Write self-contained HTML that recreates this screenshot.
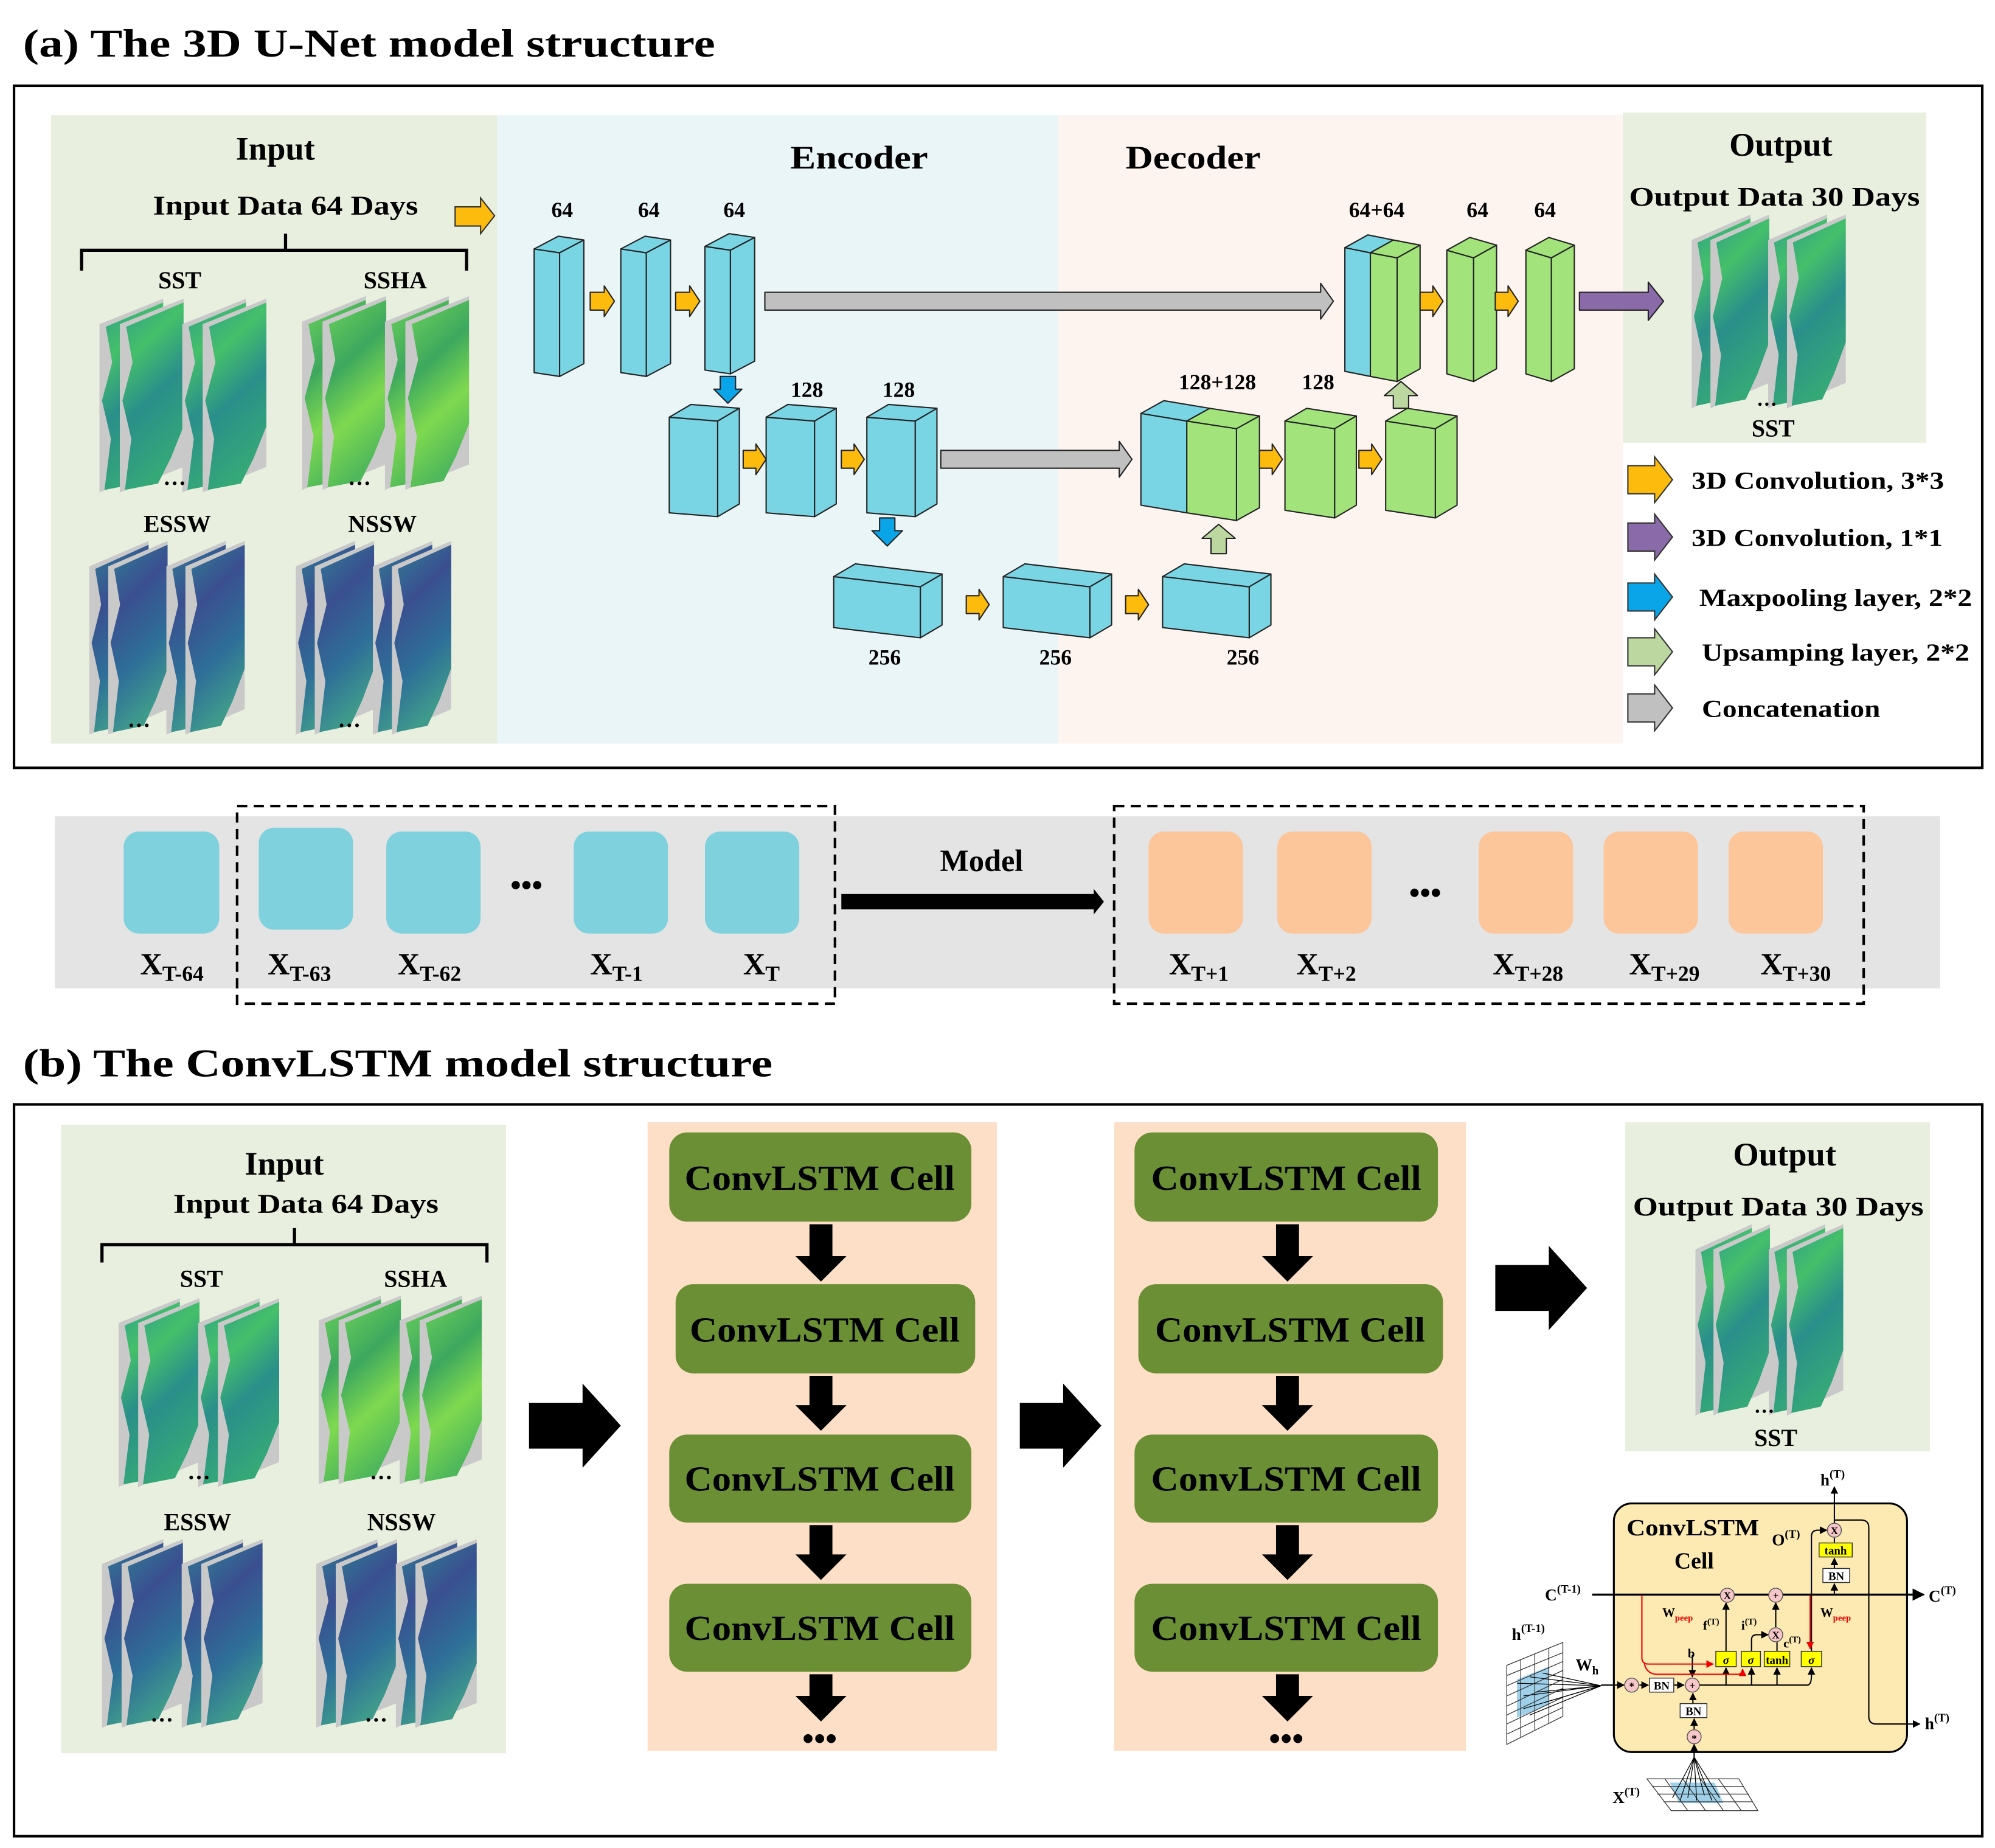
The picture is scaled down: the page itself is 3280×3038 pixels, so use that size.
<!DOCTYPE html>
<html><head><meta charset="utf-8"><style>
html,body{margin:0;padding:0;background:#fff}
svg{display:block}
text{font-family:"Liberation Serif",serif;font-weight:bold;fill:#000}
</style></head><body>
<svg width="3280" height="3038" viewBox="0 0 1565 1449" xmlns="http://www.w3.org/2000/svg">
<defs>
<linearGradient id="gSST" x1="0" y1="0" x2="0.3" y2="1"><stop offset="0" stop-color="#2f9e8a"/><stop offset="0.3" stop-color="#45c06a"/><stop offset="0.6" stop-color="#2a8f8a"/><stop offset="1" stop-color="#35a878"/></linearGradient>
<linearGradient id="gSSHA" x1="0" y1="0" x2="0.3" y2="1"><stop offset="0" stop-color="#6ed35a"/><stop offset="0.4" stop-color="#3da85e"/><stop offset="0.7" stop-color="#7fd94f"/><stop offset="1" stop-color="#4fb85a"/></linearGradient>
<linearGradient id="gSW" x1="0" y1="0" x2="0.3" y2="1"><stop offset="0" stop-color="#2f7f95"/><stop offset="0.35" stop-color="#3a4f90"/><stop offset="0.7" stop-color="#2e6f98"/><stop offset="1" stop-color="#3f9a8c"/></linearGradient>
<symbol id="sSST" viewBox="0 0 131 152" preserveAspectRatio="none">
<g><polygon points="0,20 50,0 50,132 0,152" fill="#c9c9c9"/><polygon points="5,22 50,3 50,100 40,125 30,145 4,150 9,110 2,80 10,50" fill="url(#gSST)"/></g>
<g><polygon points="16,20 66,0 66,132 16,152" fill="#c9c9c9"/><polygon points="21,22 66,3 66,100 56,125 46,145 20,150 25,110 18,80 26,50" fill="url(#gSST)"/></g>
<g><polygon points="65,20 115,0 115,132 65,152" fill="#c9c9c9"/><polygon points="70,22 115,3 115,100 105,125 95,145 69,150 74,110 67,80 75,50" fill="url(#gSST)"/></g>
<g><polygon points="81,20 131,0 131,132 81,152" fill="#c9c9c9"/><polygon points="86,22 131,3 131,100 121,125 111,145 85,150 90,110 83,80 91,50" fill="url(#gSST)"/></g>
</symbol>
<symbol id="sSSHA" viewBox="0 0 131 152" preserveAspectRatio="none">
<g><polygon points="0,20 50,0 50,132 0,152" fill="#c9c9c9"/><polygon points="5,22 50,3 50,100 40,125 30,145 4,150 9,110 2,80 10,50" fill="url(#gSSHA)"/></g>
<g><polygon points="16,20 66,0 66,132 16,152" fill="#c9c9c9"/><polygon points="21,22 66,3 66,100 56,125 46,145 20,150 25,110 18,80 26,50" fill="url(#gSSHA)"/></g>
<g><polygon points="65,20 115,0 115,132 65,152" fill="#c9c9c9"/><polygon points="70,22 115,3 115,100 105,125 95,145 69,150 74,110 67,80 75,50" fill="url(#gSSHA)"/></g>
<g><polygon points="81,20 131,0 131,132 81,152" fill="#c9c9c9"/><polygon points="86,22 131,3 131,100 121,125 111,145 85,150 90,110 83,80 91,50" fill="url(#gSSHA)"/></g>
</symbol>
<symbol id="sSW" viewBox="0 0 131 152" preserveAspectRatio="none">
<g><polygon points="0,20 50,0 50,132 0,152" fill="#c9c9c9"/><polygon points="5,22 50,3 50,100 40,125 30,145 4,150 9,110 2,80 10,50" fill="url(#gSW)"/></g>
<g><polygon points="16,20 66,0 66,132 16,152" fill="#c9c9c9"/><polygon points="21,22 66,3 66,100 56,125 46,145 20,150 25,110 18,80 26,50" fill="url(#gSW)"/></g>
<g><polygon points="65,20 115,0 115,132 65,152" fill="#c9c9c9"/><polygon points="70,22 115,3 115,100 105,125 95,145 69,150 74,110 67,80 75,50" fill="url(#gSW)"/></g>
<g><polygon points="81,20 131,0 131,132 81,152" fill="#c9c9c9"/><polygon points="86,22 131,3 131,100 121,125 111,145 85,150 90,110 83,80 91,50" fill="url(#gSW)"/></g>
</symbol>
<marker id="ah" viewBox="0 0 10 10" refX="9" refY="5" markerWidth="6" markerHeight="6" orient="auto"><path d="M0,0 L10,5 L0,10 z" fill="#000"/></marker>
<marker id="ahr" viewBox="0 0 10 10" refX="9" refY="5" markerWidth="6" markerHeight="6" orient="auto"><path d="M0,0 L10,5 L0,10 z" fill="#e00"/></marker>
</defs>

<text x="18" y="44" font-size="31" textLength="543" lengthAdjust="spacingAndGlyphs">(a) The 3D U-Net model structure</text>
<rect x="11" y="67" width="1544" height="535" fill="#fff" stroke="#000" stroke-width="2"/>
<rect x="40" y="90" width="350" height="493" fill="#e8efdf"/>
<rect x="390" y="90" width="440" height="493" fill="#eaf5f8"/>
<rect x="830" y="90" width="443" height="493" fill="#fdf4ef"/>
<rect x="1273" y="88" width="238" height="259" fill="#e8efdf"/>

<text x="216" y="125" font-size="26" text-anchor="middle">Input</text>
<text x="224" y="168" font-size="21" text-anchor="middle" textLength="208" lengthAdjust="spacingAndGlyphs">Input Data 64 Days</text>
<path d="M64,212 V196 H366 V212 M224,196 V183" fill="none" stroke="#000" stroke-width="2.5"/>
<text x="141" y="226" font-size="19" text-anchor="middle">SST</text>
<text x="310" y="226" font-size="19" text-anchor="middle">SSHA</text>
<text x="139" y="417" font-size="19" text-anchor="middle">ESSW</text>
<text x="300" y="417" font-size="19" text-anchor="middle">NSSW</text>
<use href="#sSST" x="78" y="234" width="131" height="152"/>
<use href="#sSSHA" x="237" y="232" width="131" height="152"/>
<use href="#sSW" x="70" y="424" width="122" height="152"/>
<use href="#sSW" x="232" y="424" width="122" height="152"/>
<text x="128" y="380" font-size="18">…</text>
<text x="273" y="380" font-size="18">…</text>
<text x="100" y="570" font-size="18">…</text>
<text x="265" y="570" font-size="18">…</text>

<text x="674" y="132" font-size="26" text-anchor="middle" textLength="108" lengthAdjust="spacingAndGlyphs">Encoder</text>
<text x="936" y="132" font-size="26" text-anchor="middle" textLength="106" lengthAdjust="spacingAndGlyphs">Decoder</text>

<polygon points="357,162 377,162 377,155 388,169 377,183 377,177 357,177" fill="#fdbb0d" stroke="#333" stroke-width="1"/>

<g font-size="17" text-anchor="middle">
<text x="441" y="170">64</text><text x="509" y="170">64</text><text x="576" y="170">64</text>
<text x="633" y="311">128</text><text x="705" y="311">128</text>
<text x="694" y="521">256</text><text x="828" y="521">256</text><text x="975" y="521">256</text>
<text x="1080" y="170">64+64</text><text x="1159" y="170">64</text><text x="1212" y="170">64</text>
<text x="955" y="305">128+128</text><text x="1034" y="305">128</text>
</g>

<g stroke="#222" stroke-width="1" stroke-linejoin="round">
<g fill="#79d5e4">
<polygon points="419,195 439,198 439,295 419,292"/><polygon points="419,195 438,185 458,188 439,198"/><polygon points="439,198 458,188 458,285 439,295"/>
<polygon points="487,195 507,198 507,295 487,292"/><polygon points="487,195 506,185 526,188 507,198"/><polygon points="507,198 526,188 526,285 507,295"/>
<polygon points="553,193 573,196 573,293 553,290"/><polygon points="553,193 572,183 592,186 573,196"/><polygon points="573,196 592,186 592,283 573,293"/>
<polygon points="525,327 563,330 563,405 525,402"/><polygon points="525,327 542,317 580,320 563,330"/><polygon points="563,330 580,320 580,395 563,405"/>
<polygon points="601,327 639,330 639,405 601,402"/><polygon points="601,327 618,317 656,320 639,330"/><polygon points="639,330 656,320 656,395 639,405"/>
<polygon points="680,327 718,330 718,405 680,402"/><polygon points="680,327 697,317 735,320 718,330"/><polygon points="718,330 735,320 735,395 718,405"/>
<polygon points="654,452 722,460 722,500 654,492"/><polygon points="654,452 671,442 739,450 722,460"/><polygon points="722,460 739,450 739,490 722,500"/>
<polygon points="787,452 855,460 855,500 787,492"/><polygon points="787,452 804,442 872,450 855,460"/><polygon points="855,460 872,450 872,490 855,500"/>
<polygon points="912,452 980,460 980,500 912,492"/><polygon points="912,452 929,442 997,450 980,460"/><polygon points="980,460 997,450 997,490 980,500"/>
<polygon points="895,324 931,330 931,402 895,396"/><polygon points="895,324 913,314 949,320 931,330"/>
<polygon points="1055,194 1075,198 1075,295 1055,291"/><polygon points="1055,194 1073,184 1093,188 1075,198"/>
</g>
<g fill="#a2e37c">
<polygon points="931,330 970,336 970,408 931,402"/><polygon points="931,330 949,320 988,326 970,336"/><polygon points="970,336 988,326 988,398 970,408"/>
<polygon points="1008,330 1047,336 1047,406 1008,400"/><polygon points="1008,330 1025,320 1064,326 1047,336"/><polygon points="1047,336 1064,326 1064,396 1047,406"/>
<polygon points="1087,330 1126,336 1126,406 1087,400"/><polygon points="1087,330 1104,320 1143,326 1126,336"/><polygon points="1126,336 1143,326 1143,396 1126,406"/>
<polygon points="1075,198 1096,202 1096,299 1075,295"/><polygon points="1075,198 1093,188 1114,192 1096,202"/><polygon points="1096,202 1114,192 1114,289 1096,299"/>
<polygon points="1135,196 1156,202 1156,299 1135,293"/><polygon points="1135,196 1153,186 1174,192 1156,202"/><polygon points="1156,202 1174,192 1174,289 1156,299"/>
<polygon points="1197,196 1217,202 1217,299 1197,293"/><polygon points="1197,196 1215,186 1235,192 1217,202"/><polygon points="1217,202 1235,192 1235,289 1217,299"/>
</g>
<g fill="#fdbb0d">
<polygon points="463,229 474,229 474,224 482,236 474,248 474,243 463,243"/>
<polygon points="530,229 541,229 541,224 549,236 541,248 541,243 530,243"/>
<polygon points="583,353 593,353 593,348 601,360 593,372 593,367 583,367"/>
<polygon points="660,353 670,353 670,348 678,360 670,372 670,367 660,367"/>
<polygon points="758,467 768,467 768,462 776,474 768,486 768,481 758,481"/>
<polygon points="883,467 893,467 893,462 901,474 893,486 893,481 883,481"/>
<polygon points="988,353 998,353 998,348 1006,360 998,372 998,367 988,367"/>
<polygon points="1066,353 1076,353 1076,348 1084,360 1076,372 1076,367 1066,367"/>
<polygon points="1114,229 1124,229 1124,224 1132,236 1124,248 1124,243 1114,243"/>
<polygon points="1173,229 1183,229 1183,224 1191,236 1183,248 1183,243 1173,243"/>
</g>
<g fill="#c0c0c0">
<polygon points="600,229 1036,229 1036,222 1046,236 1036,250 1036,243 600,243"/>
<polygon points="738,353 878,353 878,346 888,360 878,374 878,367 738,367"/>
</g>
<g fill="#0aa5e8">
<polygon points="565,295 577,295 577,305 582,305 571,316 560,305 565,305"/>
<polygon points="690,406 702,406 702,416 708,416 696,428 684,416 690,416"/>
</g>
<g fill="#bcd8a0">
<polygon points="950,434 962,434 962,422 969,422 956,411 943,422 950,422"/>
<polygon points="1093,320 1105,320 1105,310 1112,310 1099,299 1086,310 1093,310"/>
</g>
<polygon points="1239,229 1293,229 1293,221 1305,236 1293,251 1293,243 1239,243" fill="#8a6aa8"/>
</g>

<text x="1397" y="122" font-size="26" text-anchor="middle">Output</text>
<text x="1392" y="161" font-size="21" text-anchor="middle" textLength="228" lengthAdjust="spacingAndGlyphs">Output Data 30 Days</text>
<use href="#sSST" x="1327" y="168" width="121" height="152"/>
<text x="1378" y="318" font-size="16">…</text>
<text x="1391" y="342" font-size="19" text-anchor="middle">SST</text>

<g stroke="#333" stroke-width="1">
<polygon points="1277,365 1298,365 1298,358 1312,376 1298,394 1298,387 1277,387" fill="#fdbb0d"/>
<polygon points="1277,410 1298,410 1298,403 1312,421 1298,439 1298,432 1277,432" fill="#8a6aa8"/>
<polygon points="1277,457 1298,457 1298,450 1312,468 1298,486 1298,479 1277,479" fill="#0aa5e8"/>
<polygon points="1277,500 1298,500 1298,493 1312,511 1298,529 1298,522 1277,522" fill="#bcd8a0"/>
<polygon points="1277,544 1298,544 1298,537 1312,555 1298,573 1298,566 1277,566" fill="#c0c0c0"/>
</g>
<g font-size="19">
<text x="1327" y="383" textLength="198" lengthAdjust="spacingAndGlyphs">3D Convolution, 3*3</text>
<text x="1327" y="428" textLength="197" lengthAdjust="spacingAndGlyphs">3D Convolution, 1*1</text>
<text x="1333" y="475" textLength="214" lengthAdjust="spacingAndGlyphs">Maxpooling layer, 2*2</text>
<text x="1335" y="518" textLength="210" lengthAdjust="spacingAndGlyphs">Upsamping layer, 2*2</text>
<text x="1335" y="562" textLength="140" lengthAdjust="spacingAndGlyphs">Concatenation</text>
</g>

<rect x="43" y="640" width="1479" height="135" fill="#e4e4e4"/>
<g fill="#7fd1de">
<rect x="97" y="652" width="75" height="80" rx="12"/>
<rect x="203" y="649" width="74" height="80" rx="12"/>
<rect x="303" y="652" width="74" height="80" rx="12"/>
<rect x="450" y="652" width="74" height="80" rx="12"/>
<rect x="553" y="652" width="74" height="80" rx="12"/>
</g>
<g fill="#fdc59a">
<rect x="901" y="652" width="74" height="80" rx="12"/>
<rect x="1002" y="652" width="74" height="80" rx="12"/>
<rect x="1160" y="652" width="74" height="80" rx="12"/>
<rect x="1258" y="652" width="74" height="80" rx="12"/>
<rect x="1356" y="652" width="74" height="80" rx="12"/>
</g>
<rect x="186" y="632" width="469" height="155" fill="none" stroke="#000" stroke-width="2" stroke-dasharray="8,5"/>
<rect x="874" y="632" width="588" height="155" fill="none" stroke="#000" stroke-width="2" stroke-dasharray="8,5"/>
<text x="413" y="702" font-size="24" text-anchor="middle">•••</text>
<text x="1118" y="708" font-size="24" text-anchor="middle">•••</text>
<text x="770" y="683" font-size="24" text-anchor="middle">Model</text>
<polygon points="660,701 858,701 858,697 866,707 858,717 858,713 660,713" fill="#000"/>
<g font-size="24">
<text x="110" y="764">X<tspan font-size="17" dy="5">T-64</tspan></text>
<text x="210" y="764">X<tspan font-size="17" dy="5">T-63</tspan></text>
<text x="312" y="764">X<tspan font-size="17" dy="5">T-62</tspan></text>
<text x="463" y="764">X<tspan font-size="17" dy="5">T-1</tspan></text>
<text x="583" y="764">X<tspan font-size="17" dy="5">T</tspan></text>
<text x="917" y="764">X<tspan font-size="17" dy="5">T+1</tspan></text>
<text x="1017" y="764">X<tspan font-size="17" dy="5">T+2</tspan></text>
<text x="1171" y="764">X<tspan font-size="17" dy="5">T+28</tspan></text>
<text x="1278" y="764">X<tspan font-size="17" dy="5">T+29</tspan></text>
<text x="1381" y="764">X<tspan font-size="17" dy="5">T+30</tspan></text>
</g>

<text x="18" y="844" font-size="31" textLength="588" lengthAdjust="spacingAndGlyphs">(b) The ConvLSTM model structure</text>
<rect x="11" y="866" width="1544" height="574" fill="#fff" stroke="#000" stroke-width="2"/>
<rect x="48" y="882" width="349" height="493" fill="#e8efdf"/>
<text x="223" y="921" font-size="26" text-anchor="middle">Input</text>
<text x="240" y="951" font-size="21" text-anchor="middle" textLength="208" lengthAdjust="spacingAndGlyphs">Input Data 64 Days</text>
<path d="M80,990 V976 H382 V990 M231,976 V963" fill="none" stroke="#000" stroke-width="2.5"/>
<text x="158" y="1009" font-size="19" text-anchor="middle">SST</text>
<text x="326" y="1009" font-size="19" text-anchor="middle">SSHA</text>
<text x="155" y="1200" font-size="19" text-anchor="middle">ESSW</text>
<text x="315" y="1200" font-size="19" text-anchor="middle">NSSW</text>
<use href="#sSST" x="93" y="1018" width="126" height="148"/>
<use href="#sSSHA" x="250" y="1016" width="128" height="148"/>
<use href="#sSW" x="80" y="1207" width="126" height="148"/>
<use href="#sSW" x="248" y="1207" width="126" height="148"/>
<text x="147" y="1160" font-size="18">…</text>
<text x="290" y="1160" font-size="18">…</text>
<text x="118" y="1350" font-size="18">…</text>
<text x="286" y="1350" font-size="18">…</text>

<polygon points="415,1100 457,1100 457,1085 487,1118 457,1151 457,1136 415,1136" fill="#000"/>
<polygon points="800,1100 834,1100 834,1085 864,1118 834,1151 834,1136 800,1136" fill="#000"/>
<polygon points="1173,992 1215,992 1215,977 1245,1010 1215,1043 1215,1028 1173,1028" fill="#000"/>

<rect x="508" y="880" width="274" height="493" fill="#fddfc8"/>
<rect x="874" y="880" width="276" height="493" fill="#fddfc8"/>
<g fill="#6b8f35">
<rect x="525" y="888" width="237" height="70" rx="14"/>
<rect x="530" y="1007" width="235" height="70" rx="14"/>
<rect x="525" y="1125" width="237" height="69" rx="14"/>
<rect x="525" y="1242" width="237" height="69" rx="14"/>
<rect x="890" y="888" width="238" height="70" rx="14"/>
<rect x="893" y="1007" width="239" height="70" rx="14"/>
<rect x="890" y="1125" width="238" height="69" rx="14"/>
<rect x="890" y="1242" width="238" height="69" rx="14"/>
</g>
<g font-size="28" text-anchor="middle">
<text x="643" y="933" fill="#fff" textLength="212" lengthAdjust="spacingAndGlyphs">ConvLSTM Cell</text>
<text x="647" y="1052" fill="#fff" textLength="212" lengthAdjust="spacingAndGlyphs">ConvLSTM Cell</text>
<text x="643" y="1169" fill="#fff" textLength="212" lengthAdjust="spacingAndGlyphs">ConvLSTM Cell</text>
<text x="643" y="1286" fill="#fff" textLength="212" lengthAdjust="spacingAndGlyphs">ConvLSTM Cell</text>
<text x="1009" y="933" fill="#fff" textLength="212" lengthAdjust="spacingAndGlyphs">ConvLSTM Cell</text>
<text x="1012" y="1052" fill="#fff" textLength="212" lengthAdjust="spacingAndGlyphs">ConvLSTM Cell</text>
<text x="1009" y="1169" fill="#fff" textLength="212" lengthAdjust="spacingAndGlyphs">ConvLSTM Cell</text>
<text x="1009" y="1286" fill="#fff" textLength="212" lengthAdjust="spacingAndGlyphs">ConvLSTM Cell</text>
</g>
<g fill="#000">
<polygon points="635,960 653,960 653,985 664,985 644,1005 624,985 635,985"/>
<polygon points="635,1079 653,1079 653,1102 664,1102 644,1122 624,1102 635,1102"/>
<polygon points="635,1196 653,1196 653,1219 664,1219 644,1239 624,1219 635,1219"/>
<polygon points="635,1313 653,1313 653,1330 664,1330 644,1350 624,1330 635,1330"/>
<polygon points="1001,960 1019,960 1019,985 1030,985 1010,1005 990,985 1001,985"/>
<polygon points="1001,1079 1019,1079 1019,1102 1030,1102 1010,1122 990,1102 1001,1102"/>
<polygon points="1001,1196 1019,1196 1019,1219 1030,1219 1010,1239 990,1219 1001,1219"/>
<polygon points="1001,1313 1019,1313 1019,1330 1030,1330 1010,1350 990,1330 1001,1330"/>
</g>
<text x="643" y="1372" font-size="26" text-anchor="middle">•••</text>
<text x="1009" y="1372" font-size="26" text-anchor="middle">•••</text>

<rect x="1275" y="880" width="239" height="258" fill="#e8efdf"/>
<text x="1400" y="914" font-size="26" text-anchor="middle">Output</text>
<text x="1395" y="953" font-size="21" text-anchor="middle" textLength="228" lengthAdjust="spacingAndGlyphs">Output Data 30 Days</text>
<use href="#sSST" x="1330" y="960" width="116" height="150"/>
<text x="1376" y="1108" font-size="16">…</text>
<text x="1393" y="1134" font-size="19" text-anchor="middle">SST</text>

<rect x="1266" y="1179" width="230" height="195" rx="14" fill="#fdeab3" stroke="#000" stroke-width="1.5"/>
<text x="1276" y="1204" font-size="18" textLength="104" lengthAdjust="spacingAndGlyphs">ConvLSTM</text>
<text x="1329" y="1230" font-size="18" text-anchor="middle">Cell</text>
<g stroke="#000" stroke-width="1" fill="none">
<line x1="1249" y1="1250.5" x2="1509" y2="1250.5" stroke-width="1.6" marker-end="url(#ah)"/>
<line x1="1439" y1="1250" x2="1439" y2="1242" marker-end="url(#ah)"/>
<line x1="1439" y1="1230" x2="1439" y2="1222" marker-end="url(#ah)"/>
<line x1="1439" y1="1210" x2="1439" y2="1206" />
<line x1="1439" y1="1195" x2="1439" y2="1166" marker-end="url(#ah)"/>
<path d="M1439,1192 H1460 Q1466,1192 1466,1198 V1346 Q1466,1352 1472,1352 H1506" marker-end="url(#ah)"/>
<path d="M1421,1295 V1205 Q1421,1200 1426,1200 H1433" marker-end="url(#ah)"/>
<line x1="1327.6" y1="1321.5" x2="1418" y2="1321.5"/>
<path d="M1418,1321.5 Q1421,1321 1421,1314 V1308" marker-end="url(#ah)"/>
<line x1="1354" y1="1321.5" x2="1354" y2="1308" marker-end="url(#ah)"/>
<line x1="1374" y1="1321.5" x2="1374" y2="1308" marker-end="url(#ah)"/>
<line x1="1394" y1="1321.5" x2="1394" y2="1308" marker-end="url(#ah)"/>
<line x1="1354" y1="1295" x2="1354" y2="1257" marker-end="url(#ah)"/>
<path d="M1374,1295 V1286 Q1374,1282 1378,1282 H1387" marker-end="url(#ah)"/>
<line x1="1394" y1="1295" x2="1394" y2="1288" />
<line x1="1393" y1="1276" x2="1393" y2="1257" marker-end="url(#ah)"/>
<line x1="1327.6" y1="1298" x2="1327.6" y2="1315" marker-end="url(#ah)"/>
<line x1="1256" y1="1321.5" x2="1274" y2="1321.5" marker-end="url(#ah)"/>
<line x1="1286" y1="1321.5" x2="1293" y2="1321.5" marker-end="url(#ah)"/>
<line x1="1313" y1="1321.5" x2="1321" y2="1321.5" marker-end="url(#ah)"/>
<line x1="1328" y1="1336" x2="1328" y2="1328" marker-end="url(#ah)"/>
<line x1="1329" y1="1356" x2="1329" y2="1348" marker-end="url(#ah)"/>
<line x1="1329" y1="1378" x2="1329" y2="1368" marker-end="url(#ah)"/>
</g>
<g stroke="#e00" stroke-width="1" fill="none">
<path d="M1288,1251 V1300 Q1288,1305 1293,1305 H1344" marker-end="url(#ahr)"/>
<path d="M1290,1305 Q1292,1313 1300,1313 H1363 Q1367,1313 1367,1309" marker-end="url(#ahr)"/>
<line x1="1420" y1="1251" x2="1420" y2="1293" marker-end="url(#ahr)"/>
</g>
<g stroke="#555" stroke-width="0.7" fill="#f7c6c9">
<circle cx="1355" cy="1251" r="5.5"/><circle cx="1393" cy="1251" r="5.5"/>
<circle cx="1439" cy="1200" r="5.5"/><circle cx="1393" cy="1282" r="5.5"/>
<circle cx="1280" cy="1321.5" r="5.5"/><circle cx="1327.6" cy="1321.5" r="5.5"/>
<circle cx="1329" cy="1362" r="5.5"/>
</g>
<g font-size="8" text-anchor="middle" style="font-weight:normal">
<text x="1355" y="1254">X</text><text x="1393" y="1254">+</text><text x="1439" y="1203">X</text><text x="1393" y="1285">X</text>
<text x="1280" y="1325" fill="#e00">*</text><text x="1327.6" y="1324.5">+</text><text x="1329" y="1366" fill="#e00">*</text>
</g>
<g stroke="#333" stroke-width="0.7" fill="#ffff00">
<rect x="1346" y="1295" width="16" height="12"/><rect x="1366" y="1295" width="15" height="12"/>
<rect x="1384" y="1295" width="20" height="12"/><rect x="1413" y="1295" width="16" height="12"/>
<rect x="1427" y="1210" width="26" height="11"/>
</g>
<g stroke="#333" stroke-width="0.7" fill="#fff">
<rect x="1430" y="1230" width="21" height="11"/><rect x="1294" y="1316" width="19" height="11"/><rect x="1318" y="1336" width="21" height="11"/>
</g>
<g font-size="9" text-anchor="middle" style="font-weight:normal">
<text x="1354" y="1305" font-style="italic">σ</text><text x="1373.5" y="1305" font-style="italic">σ</text><text x="1394" y="1305">tanh</text><text x="1421" y="1305" font-style="italic">σ</text>
<text x="1440" y="1219">tanh</text>
<text x="1440.5" y="1239" fill="#e00">BN</text><text x="1303.5" y="1325" fill="#e00">BN</text><text x="1328.5" y="1345" fill="#e00">BN</text>
</g>
<g font-size="13">
<text x="1212" y="1255">C<tspan font-size="9" dy="-6">(T-1)</tspan></text>
<text x="1513" y="1256">C<tspan font-size="9" dy="-6">(T)</tspan></text>
<text x="1428" y="1165">h<tspan font-size="9" dy="-6">(T)</tspan></text>
<text x="1510" y="1356">h<tspan font-size="9" dy="-6">(T)</tspan></text>
<text x="1390" y="1212">O<tspan font-size="9" dy="-6">(T)</tspan></text>
<text x="1186" y="1286">h<tspan font-size="9" dy="-6">(T-1)</tspan></text>
<text x="1236" y="1310">W<tspan font-size="9" dy="3">h</tspan></text>
<text x="1265" y="1414">X<tspan font-size="9" dy="-6">(T)</tspan></text>
</g>
<g font-size="10">
<text x="1336" y="1278">f<tspan font-size="7" dy="-4">(T)</tspan></text>
<text x="1366" y="1278">i<tspan font-size="7" dy="-4">(T)</tspan></text>
<text x="1399" y="1292">c<tspan font-size="7" dy="-4">(T)</tspan></text>
<text x="1324" y="1300">b</text>
<text x="1304" y="1268" fill="#e00">W<tspan font-size="7" dy="3" fill="#e00">peep</tspan></text>
<text x="1428" y="1268" fill="#e00">W<tspan font-size="7" dy="3" fill="#e00">peep</tspan></text>
</g>
<polygon points="1190,1317 1215,1307 1215,1337 1190,1347" fill="#9fd0ea"/>
<g stroke="#333" stroke-width="0.6" fill="none">
<polygon points="1182,1306 1226,1288 1226,1346 1182,1368"/>
<line x1="1193" y1="1301.5" x2="1193" y2="1362.5"/><line x1="1204" y1="1297" x2="1204" y2="1357"/><line x1="1215" y1="1292.5" x2="1215" y2="1351.5"/>
<line x1="1182" y1="1314" x2="1226" y2="1296"/><line x1="1182" y1="1322" x2="1226" y2="1303"/><line x1="1182" y1="1330" x2="1226" y2="1310"/><line x1="1182" y1="1338" x2="1226" y2="1317"/><line x1="1182" y1="1345" x2="1226" y2="1324"/><line x1="1182" y1="1352" x2="1226" y2="1331"/><line x1="1182" y1="1360" x2="1226" y2="1339"/>
</g>
<g stroke="#000" stroke-width="0.6">
<line x1="1190" y1="1320" x2="1256" y2="1322"/><line x1="1200" y1="1315" x2="1256" y2="1322"/><line x1="1210" y1="1312" x2="1256" y2="1322"/><line x1="1195" y1="1330" x2="1256" y2="1322"/><line x1="1205" y1="1327" x2="1256" y2="1322"/><line x1="1195" y1="1340" x2="1256" y2="1322"/><line x1="1212" y1="1335" x2="1256" y2="1322"/><line x1="1200" y1="1345" x2="1256" y2="1322"/>
</g>
<polygon points="1310,1398 1345,1398 1352,1414 1317,1414" fill="#9fd0ea"/>
<g stroke="#333" stroke-width="0.6" fill="none">
<polygon points="1292,1395 1364,1395 1379,1420 1311,1420"/>
<line x1="1296" y1="1401" x2="1368" y2="1401"/><line x1="1300" y1="1407" x2="1372" y2="1407"/><line x1="1305" y1="1413" x2="1375" y2="1413"/>
<line x1="1306" y1="1395" x2="1324" y2="1420"/><line x1="1320" y1="1395" x2="1338" y2="1420"/><line x1="1334" y1="1395" x2="1352" y2="1420"/><line x1="1348" y1="1395" x2="1366" y2="1420"/>
</g>
<g stroke="#000" stroke-width="0.6">
<line x1="1329" y1="1378" x2="1312" y2="1410"/><line x1="1329" y1="1378" x2="1318" y2="1412"/><line x1="1329" y1="1378" x2="1324" y2="1410"/><line x1="1329" y1="1378" x2="1331" y2="1412"/><line x1="1329" y1="1378" x2="1337" y2="1408"/><line x1="1329" y1="1378" x2="1343" y2="1412"/><line x1="1329" y1="1378" x2="1349" y2="1410"/>
</g>
</svg>
</body></html>
